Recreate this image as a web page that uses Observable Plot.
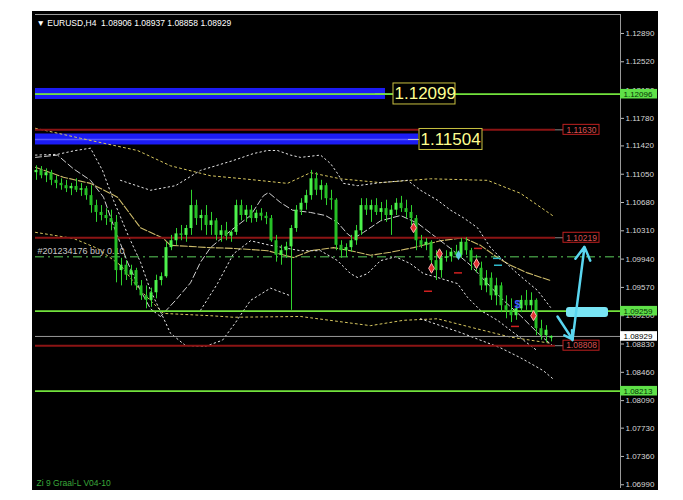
<!DOCTYPE html>
<html><head><meta charset="utf-8">
<script src="https://cdn.jsdelivr.net/npm/d3@7"></script>
<script src="https://cdn.jsdelivr.net/npm/@observablehq/plot@0.6"></script>
<style>
html,body{margin:0;padding:0;background:#fff;width:683px;height:500px;overflow:hidden}
#chart{position:absolute;left:32px;top:11px;line-height:0}
</style></head><body><div id="chart"></div>
<script>
// ---- data ----
const header = "▼ EURUSD,H4  1.08906 1.08937 1.08858 1.08929";
const footer = "Zi 9 Graal-L V04-10";
const orderLabel = "#201234176 buy 0.10";
const priceTicks = [1.06990,1.07360,1.07730,1.08090,1.08460,1.08830,1.09200,1.09570,1.09940,1.10310,1.10680,1.11050,1.11420,1.11780,1.12150,1.12520,1.12890];

const OPEN  = [1.1107,1.1110,1.1103,1.1107,1.1097,1.1093,1.1090,1.1086,1.1089,1.1084,1.1086,1.1077,1.1064,1.1055,1.1051,1.1047,1.1042,1.0979,1.0986,1.0973,1.0979,1.0959,1.0946,1.0940,1.0950,1.0966,1.0971,1.1009,1.1018,1.1027,1.1025,1.1034,1.1064,1.1047,1.1051,1.1038,1.1044,1.1025,1.1031,1.1024,1.1029,1.1064,1.1051,1.1058,1.1047,1.1054,1.1050,1.1047,1.1018,1.0999,1.1005,1.1010,1.1034,1.1058,1.1067,1.1077,1.1099,1.1084,1.1090,1.1073,1.1071,1.1012,1.1005,1.1009,1.1018,1.1031,1.1064,1.1058,1.1064,1.1055,1.1060,1.1051,1.1058,1.1067,1.1060,1.1055,1.1047,1.1018,1.1012,1.1016,1.0992,1.0979,1.0995,1.0997,1.1003,1.0999,1.1016,1.1005,1.0990,1.0982,1.0959,1.0969,1.0946,1.0959,1.0933,1.0927,1.0920,1.0929,1.0940,1.0933,1.0940,1.0903,1.0894,1.08906];
const HIGH  = [1.1116,1.1115,1.1112,1.1110,1.1103,1.1099,1.1097,1.1093,1.1099,1.1093,1.1089,1.1090,1.1071,1.1064,1.1060,1.1058,1.1051,1.0995,1.0992,1.0986,1.0982,1.0966,1.0959,1.0956,1.0973,1.0976,1.1016,1.1025,1.1034,1.1038,1.1038,1.1084,1.1071,1.1058,1.1064,1.1055,1.1047,1.1038,1.1042,1.1031,1.1071,1.1071,1.1064,1.1064,1.1058,1.1060,1.1055,1.1051,1.1025,1.1012,1.1016,1.1038,1.1064,1.1073,1.1084,1.1110,1.1107,1.1097,1.1093,1.1084,1.1073,1.1018,1.1014,1.1025,1.1038,1.1073,1.1073,1.1071,1.1073,1.1068,1.1071,1.1064,1.1073,1.1076,1.1071,1.1064,1.1051,1.1025,1.1021,1.1018,1.1005,1.1003,1.1005,1.1008,1.1012,1.1021,1.1022,1.1008,1.0999,1.0990,1.0979,1.0976,1.0969,1.0963,1.0946,1.0942,1.0933,1.0946,1.0953,1.0950,1.0942,1.0914,1.0907,1.08937];
const LOW   = [1.1097,1.1099,1.1094,1.1090,1.1086,1.1084,1.1081,1.1077,1.1081,1.1076,1.1071,1.1054,1.1042,1.1044,1.1038,1.1031,1.0963,1.0959,1.0966,1.0959,1.0953,1.0940,1.0929,1.0931,1.0942,1.0959,1.0969,1.1005,1.1012,1.1018,1.1016,1.1025,1.1038,1.1031,1.1025,1.1025,1.1018,1.1016,1.1018,1.1016,1.1025,1.1044,1.1042,1.1041,1.1042,1.1044,1.1039,1.1016,1.0990,1.0986,1.0995,1.0927,1.1029,1.1051,1.1058,1.1071,1.1077,1.1071,1.1064,1.1058,1.1005,1.0995,1.0996,1.1003,1.1012,1.1025,1.1051,1.1042,1.1051,1.1044,1.1042,1.1025,1.1051,1.1055,1.1047,1.1038,1.1005,1.1008,1.1005,1.0986,1.0966,1.0969,1.0990,1.0990,1.0995,1.0995,1.0999,1.0979,1.0976,1.0953,1.0950,1.0940,1.0933,1.0924,1.0916,1.0911,1.0914,1.0924,1.0927,1.0924,1.0894,1.0888,1.0885,1.08858];
const CLOSE = [1.1110,1.1103,1.1107,1.1097,1.1093,1.1090,1.1086,1.1089,1.1084,1.1086,1.1077,1.1064,1.1055,1.1051,1.1047,1.1042,1.0979,1.0986,1.0973,1.0979,1.0959,1.0946,1.0940,1.0950,1.0966,1.0971,1.1009,1.1018,1.1027,1.1025,1.1034,1.1064,1.1047,1.1051,1.1038,1.1044,1.1025,1.1031,1.1024,1.1029,1.1064,1.1051,1.1058,1.1047,1.1054,1.1050,1.1047,1.1018,1.0999,1.1005,1.1010,1.1034,1.1058,1.1067,1.1077,1.1099,1.1084,1.1090,1.1073,1.1071,1.1012,1.1005,1.1009,1.1018,1.1031,1.1064,1.1058,1.1064,1.1055,1.1060,1.1051,1.1058,1.1067,1.1060,1.1055,1.1047,1.1018,1.1012,1.1016,1.0992,1.0979,1.0995,1.0997,1.1003,1.0999,1.1016,1.1005,1.0990,1.0982,1.0959,1.0969,1.0946,1.0959,1.0933,1.0927,1.0920,1.0929,1.0940,1.0933,1.0940,1.0903,1.0894,1.0901,1.08929];

// indicator lines: [bar index, price]
const yellowUpper = [[-0.2,1.1165],[8.8,1.1152],[20.2,1.1136],[26.8,1.1116],[34.8,1.1103],[41.4,1.1099],[50.2,1.1093],[54.8,1.1107],[60.8,1.1099],[68.8,1.1094],[78.8,1.1099],[90.2,1.1097],[96.8,1.1080],[103.2,1.1051]];
const yellowLower = [[-0.2,1.1029],[7.4,1.1021],[12.2,1.1008],[16.8,1.0986],[20.8,1.0953],[25.4,1.0923],[34.8,1.0920],[39.4,1.0918],[52.8,1.0919],[66.8,1.0907],[73.4,1.0914],[80.2,1.0916],[86.8,1.0905],[94.8,1.0892],[102.8,1.0884]];
const yellowMA = [[-0.2,1.1114],[5.4,1.1101],[10.8,1.1093],[16.2,1.1075],[20.8,1.1035],[25.4,1.1021],[26.8,1.1012],[34.8,1.1009],[39.4,1.1008],[46.2,1.1005],[51.4,1.0996],[54.8,1.1005],[59.4,1.1009],[62.8,1.1005],[66.8,1.0999],[70.8,1.1003],[75.4,1.1009],[80.8,1.1018],[85.4,1.1022],[88.8,1.1012],[92.2,1.0996],[94.8,1.0986],[98.2,1.0976],[102.8,1.0966]];
const whiteDotA = [[-0.2,1.1130],[4.2,1.1131],[7.8,1.1136],[10.8,1.1139],[13.2,1.1110],[15.4,1.1071],[18.2,1.1027],[20.8,1.0990],[22.8,1.0953],[24.4,1.0931],[26.8,1.0897],[29.8,1.0881],[33.8,1.0880],[37.2,1.0888],[39.8,1.0911],[42.8,1.0940],[46.8,1.0956],[50.8,1.0946]];
const whiteDotUpper = [[16.8,1.1097],[22.8,1.1084],[27.8,1.1090],[32.8,1.1110],[39.4,1.1123],[43.4,1.1132],[46.2,1.1136],[48.2,1.1136],[50.8,1.1130],[52.8,1.1127],[56.8,1.1130],[58.8,1.1119],[60.2,1.1106],[61.4,1.1093],[64.2,1.1090],[68.8,1.1094],[74.2,1.1097],[76.8,1.1084],[80.2,1.1071],[82.8,1.1058],[85.4,1.1048],[88.2,1.1035],[90.8,1.1009],[93.4,1.0992],[96.2,1.0975],[100.2,1.0953],[102.8,1.0931]];
const whiteDotLower = [[32.8,1.0927],[36.2,1.0962],[39.4,1.1001],[42.8,1.1018],[46.8,1.1012],[52.8,1.1005],[56.8,1.1005],[60.2,1.0992],[62.8,1.0975],[64.2,1.0970],[66.2,1.0975],[68.8,1.0992],[71.8,1.0997],[74.8,1.0988],[77.4,1.0975],[80.2,1.0970],[84.2,1.0962],[86.2,1.0944],[88.8,1.0927],[92.2,1.0914],[94.8,1.0901],[97.4,1.0888],[100.2,1.0874]];
const whiteDotLower2 = [[76.8,1.0916],[84.8,1.0898],[92.8,1.0878],[96.8,1.0865],[101.4,1.0848],[103.2,1.0838]];
const whiteDash = [[-0.2,1.1127],[4.2,1.1130],[7.4,1.1112],[10.8,1.1097],[13.4,1.1075],[15.4,1.1038],[18.2,1.0990],[20.8,1.0953],[22.8,1.0929],[24.8,1.0919],[27.8,1.0940],[30.8,1.0963],[32.8,1.0990],[34.8,1.1009],[38.8,1.1031],[42.8,1.1051],[45.4,1.1077],[46.4,1.1081],[48.8,1.1068],[51.2,1.1058],[54.8,1.1055],[57.8,1.1051],[60.2,1.1042],[62.2,1.1027],[63.4,1.1021],[65.4,1.1029],[68.8,1.1044],[72.8,1.1051],[76.2,1.1041],[80.2,1.1021],[82.8,1.1008],[86.8,1.0986],[90.2,1.0962],[93.4,1.0940],[96.8,1.0920],[100.8,1.0894],[103.2,1.0881]];

// levels
const greenLevels = [1.12096, 1.09259, 1.08213];
const redLevels = [1.11630, 1.10219, 1.08808];
const currentPrice = 1.08929;
const orderPrice = 1.0997;
const zonePrices = [1.12099, 1.11504];
const zoneEnds = [69.8, 76.4];
const zoneLabelStart = [71.4, 76.6];
const zoneLabelEnd = [83.8, 89.2];
const redLabelSpan = [105.4, 112.6];
const redLineEnd = 103.8;

// trade markers
const redMarks = [[75.4,1.1035],[79,1.0982],[80.6,1.1001],[88,1.0988],[99.4,1.0920]];
const blueMarks = [[96.2,1.0935]];
const cyanMarks = [[84.4,1.0999]];
const redTicks = [[78.4,1.0952],[84.4,1.0976],[88.4,1.1008],[95.8,1.0906]];
const cyanTicks = [[92.2,1.0995],[92.4,1.0986]];

// cyan forecast
const forecastBox = {x1:106, x2:114.4, price:1.09242};
const forecastArrows = [{x1:104.2,y1:1.0919,x2:107.2,y2:1.0889},{x1:107.2,y1:1.0888,x2:109.6,y2:1.1010}];

// ---- build ----
const candles = OPEN.map((o,i)=>({i, o, h:HIGH[i], l:LOW[i], c:CLOSE[i], up:CLOSE[i]>=o}));
const pts = a => a.map(([i,p])=>({i,p}));
const px = 0.00013074; // price per pixel
const zones = zonePrices.map((p,k)=>({p, end:zoneEnds[k], ls:zoneLabelStart[k], le:zoneLabelEnd[k]}));
const dotted = (arr, stroke, dash, w=1) => Plot.line(pts(arr), {x:"i", y:"p", stroke, strokeWidth:w, strokeDasharray:dash});

const chart = Plot.plot({
  width:626, height:479,
  marginLeft:3, marginRight:38, marginTop:3, marginBottom:2,
  style:{background:"#000", color:"#d8d8d8", fontFamily:"Liberation Sans, Arial, sans-serif", fontSize:"8px"},
  x:{domain:[-0.2,116.8], axis:null},
  y:{domain:[1.06941,1.13138], axis:null},
  marks:[
    Plot.ruleX([116.8], {stroke:"#9a9a9a"}),
    Plot.ruleY([1.13138], {stroke:"#9a9a9a"}),
    Plot.rect(zones, {x1:-0.2, x2:"end", y1:d=>d.p-5.5*px, y2:d=>d.p+5.5*px, fill:"#1c1cf5"}),
    Plot.ruleY(zones, {y:"p", x1:-0.2, x2:"end", stroke:"#5a5aff", strokeWidth:1.5}),
    Plot.ruleY(zones, {y:"p", x1:d=>d.end-2, x2:"ls", stroke:"#cccccc", strokeWidth:1}),
    Plot.ruleY([orderPrice], {stroke:"#3d8a3d", strokeWidth:1.5, strokeDasharray:"9,4,2,4"}),
    Plot.text([orderLabel], {x:-0.2, y:orderPrice, dx:2, dy:-6, textAnchor:"start", fill:"#c8c8c8", fontSize:9}),
    dotted(yellowUpper, "#d8c860", "2,3"),
    dotted(yellowLower, "#d8c860", "2,3"),
    dotted(yellowMA, "#cdbb6a", "7,2", 1.1),
    dotted(whiteDotA, "#e6e6e6", "1.5,3"),
    dotted(whiteDotUpper, "#e6e6e6", "1.5,3"),
    dotted(whiteDotLower, "#e6e6e6", "1.5,3"),
    dotted(whiteDotLower2, "#e6e6e6", "1.5,3"),
    dotted(whiteDash, "#d0d0d0", "6,3"),
    Plot.ruleY(redLevels, {x1:-0.2, x2:redLineEnd, stroke:"#8c1414", strokeWidth:2}),
    Plot.ruleY(redLevels, {x1:redLineEnd, x2:redLabelSpan[0], stroke:"#888", strokeWidth:1}),
    Plot.ruleY([currentPrice], {stroke:"#9a9a9a", strokeWidth:1}),
    Plot.ruleY(greenLevels, {stroke:"#72e23c", strokeWidth:1.8}),
    Plot.ruleX(candles, {x:"i", y1:"l", y2:"h", stroke:"#2fd42f", strokeWidth:1}),
    Plot.rect(candles, {x1:d=>d.i-0.3, x2:d=>d.i+0.3, y1:"o", y2:"c", fill:d=>d.up?"#4cf24c":"#26c026"}),
    Plot.ruleY(pts(redTicks), {y:"p", x1:d=>d.i-0.8, x2:d=>d.i+0.8, stroke:"#d02020", strokeWidth:1.5}),
    Plot.ruleY(pts(cyanTicks), {y:"p", x1:d=>d.i-0.8, x2:d=>d.i+0.8, stroke:"#30b8c8", strokeWidth:1.5}),
    Plot.dot(pts(redMarks), {x:"i", y:"p", r:3, fill:"#e03030", stroke:"#ffb0b0", strokeWidth:1, symbol:"diamond"}),
    Plot.text(pts(blueMarks), {x:"i", y:"p", text:()=>"$", fill:"#4060ff", fontSize:11, fontWeight:"bold"}),
    Plot.dot(pts(cyanMarks), {x:"i", y:"p", r:3, fill:"#60c8e0", symbol:"diamond"}),
    Plot.rect(zones, {x1:"ls", x2:"le", y1:d=>d.p-10.5*px, y2:d=>d.p+10.5*px, fill:"#000", stroke:"#c8c040", strokeWidth:1}),
    Plot.text(zones, {x:"ls", y:"p", dx:1, text:d=>d.p.toFixed(5), textAnchor:"start", fill:"#ffff90", fontSize:17}),
    Plot.rect(redLevels, {x1:redLabelSpan[0], x2:redLabelSpan[1], y1:d=>d-5*px, y2:d=>d+5*px, fill:"#000", stroke:"#c02020", strokeWidth:1}),
    Plot.text(redLevels, {x:(redLabelSpan[0]+redLabelSpan[1])/2, y:d=>d, text:d=>d.toFixed(5), fill:"#d85050", fontSize:8.5}),
    Plot.rect([forecastBox], {x1:"x1", x2:"x2", y1:d=>d.price-5*px, y2:d=>d.price+5*px, fill:"#78e4f4", rx:3}),
    Plot.arrow(forecastArrows, {x1:"x1", y1:"y1", x2:"x2", y2:"y2", stroke:"#5ad6f0", strokeWidth:2.5, headLength:9}),
    Plot.axisY(priceTicks, {anchor:"right", tickSize:3, tickPadding:2, tickFormat:d=>d.toFixed(5), fontSize:8, stroke:"#bbb"}),
    Plot.rect(greenLevels, {x1:116.8, x2:124.2, y1:d=>d-4.8*px, y2:d=>d+4.8*px, fill:"#5fe048", clip:false}),
    Plot.text(greenLevels, {x:116.8, y:d=>d, dx:3, text:d=>d.toFixed(5), textAnchor:"start", fill:"#063306", fontSize:8, clip:false}),
    Plot.rect([currentPrice], {x1:116.8, x2:124.2, y1:d=>d-4.8*px, y2:d=>d+4.8*px, fill:"#ffffff", clip:false}),
    Plot.text([currentPrice], {x:116.8, y:d=>d, dx:3, text:d=>d.toFixed(5), textAnchor:"start", fill:"#000", fontSize:8, clip:false}),
    Plot.text([header], {frameAnchor:"top-left", dx:1, dy:5, textAnchor:"start", lineAnchor:"top", fill:"#ffffff", fontSize:8.5}),
    Plot.text([footer], {frameAnchor:"bottom-left", dx:1, dy:-3, textAnchor:"start", lineAnchor:"bottom", fill:"#3aa83a", fontSize:8.5})
  ]
});
document.getElementById("chart").appendChild(chart);
</script></body></html>
